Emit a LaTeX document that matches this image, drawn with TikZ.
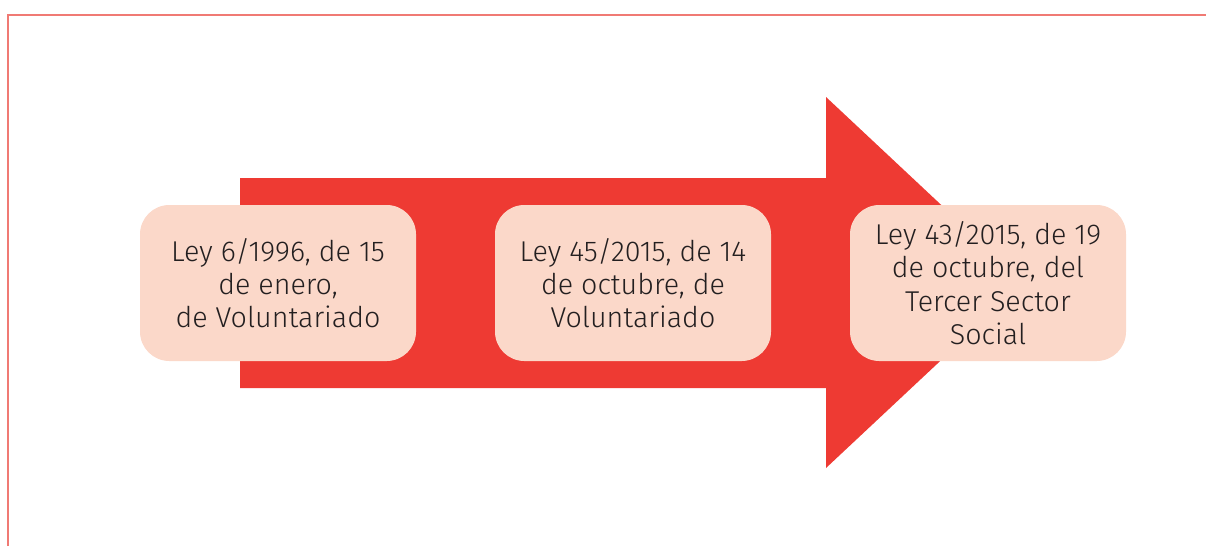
\documentclass[tikz,border=0pt]{standalone}
\usepackage{fontspec}
\setmainfont{Fira Sans}[UprightFont=* Light]
\definecolor{arrowred}{HTML}{EE3A33}
\definecolor{boxfill}{HTML}{FBD8C9}
\definecolor{framered}{HTML}{F07A74}
\definecolor{txt}{HTML}{231F20}
\begin{document}
\begin{tikzpicture}[x=0.75pt,y=-0.75pt,
  lawbox/.style={fill=boxfill, rounded corners=22pt, minimum width=207pt, minimum height=117pt,
    align=center, text=txt, font=\fontsize{21.5}{25}\selectfont, inner sep=0pt}]
\useasboundingbox (0,0) rectangle (1206,546);
\draw[framered, line width=1.3pt] (8,546) -- (8,15) -- (1206,15);
\fill[arrowred] (240,178) -- (826,178) -- (826,97) -- (1024,282.5) -- (826,468) -- (826,388) -- (240,388) -- cycle;
\node[lawbox] (l1) at (278,283) {Ley 6/1996, de 15\\de enero,\\de Voluntariado};
\node[lawbox] (l2) at (633,283) {Ley 45/2015, de 14\\de octubre, de\\Voluntariado};
\node[lawbox] (l3) at (988,283) {Ley 43/2015, de 19\\de octubre, del\\Tercer Sector\\Social};
\end{tikzpicture}
\end{document}
